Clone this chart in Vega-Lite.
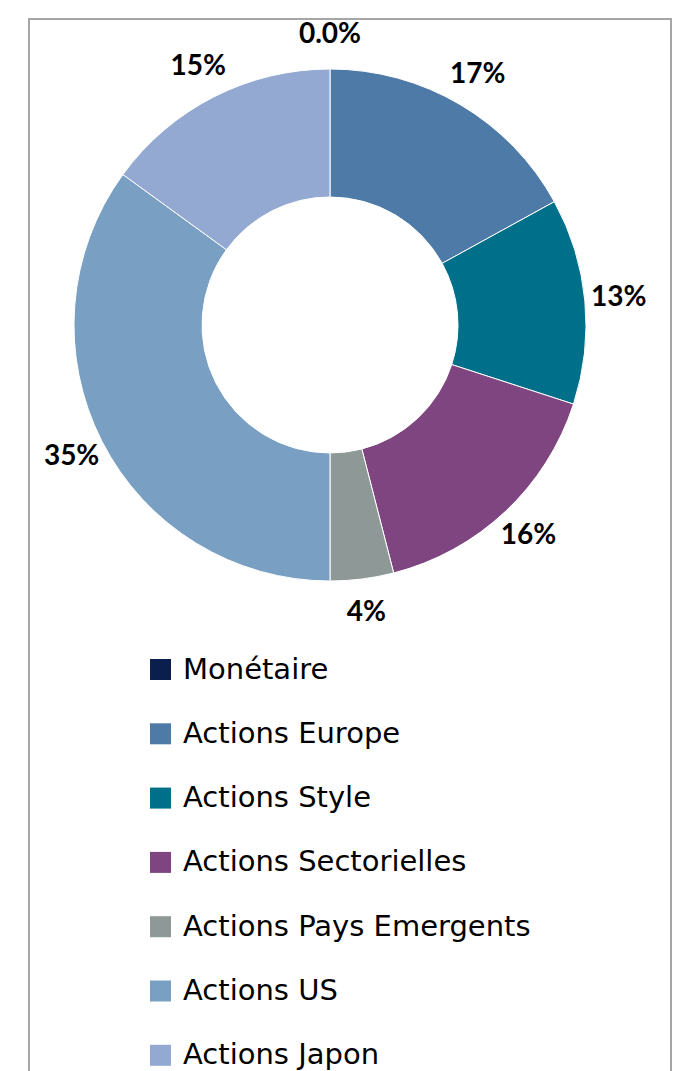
{
  "$schema": "https://vega.github.io/schema/vega-lite/v6.json",
  "autosize": {"type": "none"},
  "padding": {"left": 29, "top": 19, "right": 21, "bottom": -12},
  "width": 642,
  "height": 1064,
  "background": "white",
  "view": {"stroke": "#a6a6a6", "strokeWidth": 2},
  "config": {
    "view": {"stroke": "#a6a6a6", "strokeWidth": 2},
    "font": "Lato"
  },
  "data": {
    "values": [
      {"idx": 0, "categorie": "Monétaire", "valeur": 0.0, "label": "0.0%"},
      {"idx": 1, "categorie": "Actions Europe", "valeur": 17, "label": "17%"},
      {"idx": 2, "categorie": "Actions Style", "valeur": 13, "label": "13%"},
      {"idx": 3, "categorie": "Actions Sectorielles", "valeur": 16, "label": "16%"},
      {"idx": 4, "categorie": "Actions Pays Emergents", "valeur": 4, "label": "4%"},
      {"idx": 5, "categorie": "Actions US", "valeur": 35, "label": "35%"},
      {"idx": 6, "categorie": "Actions Japon", "valeur": 15, "label": "15%"}
    ]
  },
  "encoding": {
    "theta": {"field": "valeur", "type": "quantitative", "stack": true},
    "order": {"field": "idx", "type": "quantitative"}
  },
  "layer": [
    {
      "mark": {"type": "arc", "x": 301, "y": 306, "outerRadius": 256, "innerRadius": 128, "stroke": "white", "strokeWidth": 1},
      "encoding": {
        "color": {
          "field": "categorie",
          "type": "nominal",
          "sort": null,
          "scale": {
            "domain": ["Monétaire", "Actions Europe", "Actions Style", "Actions Sectorielles", "Actions Pays Emergents", "Actions US", "Actions Japon"],
            "range": ["#0b1f4e", "#4e7aa8", "#006f8a", "#7e4581", "#8e9896", "#799fc3", "#93a9d2"]
          },
          "legend": {
            "title": null,
            "orient": "none",
            "legendX": 117,
            "legendY": 636,
            "direction": "vertical",
            "padding": 0,
            "symbolType": "square",
            "symbolSize": 441,
            "symbolStrokeWidth": 0,
            "labelFont": "DejaVu Sans",
            "labelFontSize": 29,
            "labelColor": "#000000",
            "labelOffset": 8,
            "rowPadding": 34.3,
            "labelLimit": 500
          }
        }
      }
    },
    {
      "mark": {"type": "text", "x": 301, "y": 306, "radius": 290, "font": "Lato", "fontWeight": "bold", "fontSize": 28, "color": "#000000"},
      "encoding": {
        "text": {"field": "label", "type": "nominal"}
      }
    }
  ]
}
